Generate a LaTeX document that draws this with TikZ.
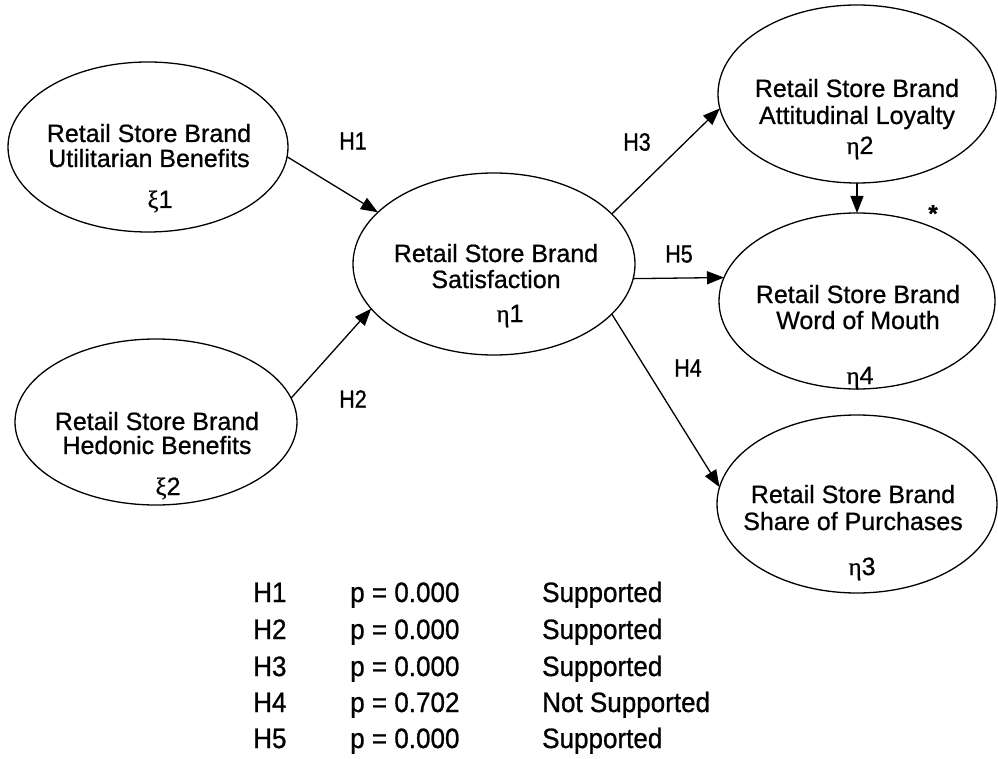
\documentclass[tikz,border=0pt]{standalone}
\usepackage{fontspec}
\setmainfont[FakeBold=0.8]{Liberation Sans}
\newfontfamily\grk[FakeBold=0.8]{Liberation Serif}
\newfontfamily\tabfont[FakeStretch=0.93,FakeBold=0.8]{Liberation Sans}
\newfontfamily\hfont[FakeStretch=0.86,FakeBold=1]{Liberation Sans}
\usetikzlibrary{arrows.meta,shapes.geometric}
\begin{document}
\begin{tikzpicture}[x=1pt,y=-1pt,
 ell/.style={draw, ellipse, line width=1.3pt, inner sep=0pt, outer sep=0pt},
 lbl/.style={anchor=base, inner sep=0pt, font=\fontsize{25}{26}\selectfont},
 hyp/.style={inner sep=0pt, font=\hfont\fontsize{25}{26}\selectfont},
 tab/.style={anchor=base west, inner sep=0pt, font=\tabfont\fontsize{28}{30}\selectfont},
 arr/.style={line width=1.3pt, -{Triangle[length=17pt,width=13pt]}}]
\useasboundingbox (0,0) rectangle (998,759);

% ellipses
\node[ell, minimum width=280pt, minimum height=170pt] (u) at (148,147) {};
\node[ell, minimum width=282pt, minimum height=166pt] (h) at (156,422) {};
\node[ell, minimum width=282pt, minimum height=182pt] (s) at (494,264) {};
\node[ell, minimum width=278pt, minimum height=178pt] (l) at (857,94) {};
\node[ell, minimum width=276pt, minimum height=176pt] (w) at (857,301) {};
\node[ell, minimum width=280pt, minimum height=178pt] (p) at (857,504) {};

% texts
\node[lbl] (u1) at (149,142) {Retail Store Brand};
\node[lbl] (u2) at (149,167) {Utilitarian Benefits};
\node[lbl] (ug) at (160,208) {{\grk ξ}1};

\node[lbl] (h1) at (157,430) {Retail Store Brand};
\node[lbl] (h2) at (157,454) {Hedonic Benefits};
\node[lbl] (hg) at (168,495) {{\grk ξ}2};

\node[lbl] (s1) at (496,262) {Retail Store Brand};
\node[lbl] (s2) at (496,288) {Satisfaction};
\node[lbl] (sg) at (510,322) {{\grk η}1};

\node[lbl] (l1) at (857,97) {Retail Store Brand};
\node[lbl] (l2) at (857,124) {Attitudinal Loyalty};
\node[lbl] (lg) at (860,154) {{\grk η}2};

\node[lbl] (w1) at (858,303) {Retail Store Brand};
\node[lbl] (w2) at (858,329) {Word of Mouth};
\node[lbl] (wg) at (860,384) {{\grk η}4};

\node[lbl] (p1) at (853,503) {Retail Store Brand};
\node[lbl] (p2) at (853,530) {Share of Purchases};
\node[lbl] (pg) at (862,575) {{\grk η}3};

% connectors
\draw[arr] (u.-4) -- (s.156.5);
\draw[arr] (h.10) -- (s.200.6);
\draw[arr] (s.23.4) -- (l.186.6);
\draw[arr] (s.-6) -- (w.170);
\draw[arr] (s.-23.7) -- (p.173.4);
\draw[arr] (l.-90) -- (w.90);

% hypothesis labels
\node[hyp] (H1) at (353,141) {H1};
\node[hyp] (H2) at (353,399) {H2};
\node[hyp] (H3) at (637,142) {H3};
\node[hyp] (H5) at (679,254) {H5};
\node[hyp] (H4) at (688,368) {H4};
\node[anchor=north, inner sep=0pt, font=\bfseries\fontsize{24}{24}\selectfont] (star) at (933,205) {*};

% table
\node[tab] (t1a) at (253,602) {H1};
\node[tab] (t1b) at (350,602) {p = 0.000};
\node[tab] (t1c) at (542,602) {Supported};
\node[tab] (t2a) at (253,639) {H2};
\node[tab] (t2b) at (350,639) {p = 0.000};
\node[tab] (t2c) at (542,639) {Supported};
\node[tab] (t3a) at (253,676) {H3};
\node[tab] (t3b) at (350,676) {p = 0.000};
\node[tab] (t3c) at (542,676) {Supported};
\node[tab] (t4a) at (253,712) {H4};
\node[tab] (t4b) at (350,712) {p = 0.702};
\node[tab] (t4c) at (542,712) {Not Supported};
\node[tab] (t5a) at (253,748) {H5};
\node[tab] (t5b) at (350,748) {p = 0.000};
\node[tab] (t5c) at (542,748) {Supported};
\end{tikzpicture}
\end{document}
